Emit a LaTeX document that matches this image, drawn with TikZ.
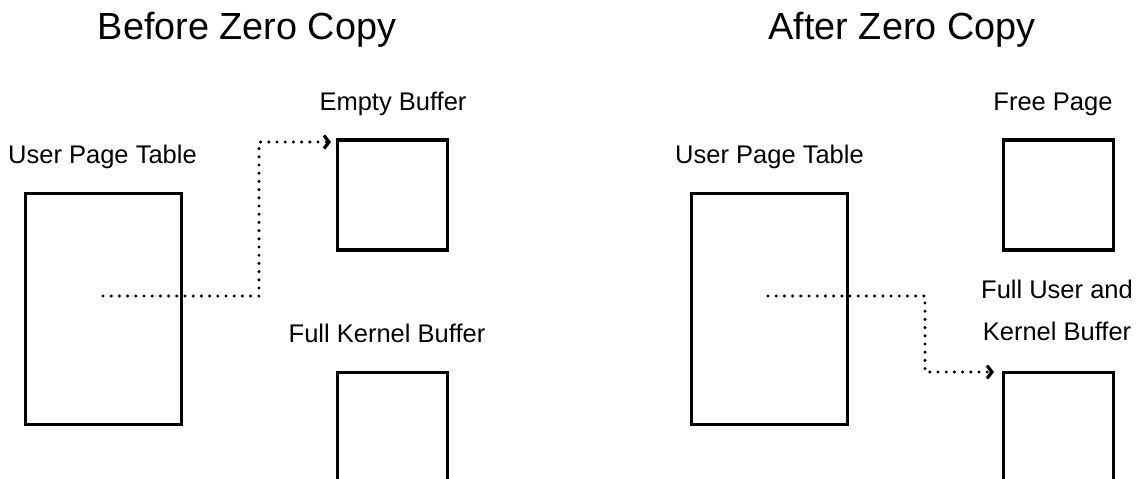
\documentclass[tikz,border=0pt]{standalone}
\usepackage{fontspec}
\setmainfont{Liberation Sans}
\usetikzlibrary{arrows.meta}

\begin{document}
\begin{tikzpicture}[x=1pt,y=-1pt,
  title/.style={font=\fontsize{37.8}{44}\selectfont,anchor=base,inner sep=0pt},
  lbl/.style={font=\fontsize{25.5}{42}\selectfont,anchor=base,inner sep=0pt,align=center},
  ptable/.style={draw,line width=3.2pt,minimum width=156pt,minimum height=231pt,inner sep=0pt},
  pagebox/.style={draw,line width=3.2pt,minimum width=110pt,minimum height=110pt,inner sep=0pt},
  link/.style={line width=3.4pt,line cap=round,dash pattern=on 0pt off 8.2pt,
    -{Straight Barb[length=5pt,width=13pt,line width=3.2pt]}}]
\useasboundingbox (0,0) rectangle (1140,479);
\clip (0,0) rectangle (1140,479);

% before
\node[title] (before) at (247,39) {Before Zero Copy};
\node[ptable] (tblA) at (103.5,309) {};
\node[lbl] (tblAlbl) at (102.5,163) {User Page Table};
\node[pagebox] (emptybuf) at (392.5,195) {};
\node[lbl] (emptylbl) at (393,110) {Empty Buffer};
\node[pagebox] (kernbuf) at (392.5,427.5) {};
\node[lbl] (kernlbl) at (387,342) {Full Kernel Buffer};
\coordinate (srcA) at (103,296);
\coordinate (dstA) at (331,142);
\draw[link] (srcA) -- ++(156,0) |- (dstA);

% after
\node[title] (after) at (902,39) {After Zero Copy};
\node[ptable] (tblB) at (769.5,309) {};
\node[lbl] (tblBlbl) at (769.5,163) {User Page Table};
\node[pagebox] (freepage) at (1058.5,195) {};
\node[lbl] (freelbl) at (1053,110) {Free Page};
\node[pagebox] (fullbuf) at (1058.5,427.5) {};
\node[lbl] (fulllbl) at (1057,340) {Full User and\\Kernel Buffer};
\coordinate (srcB) at (768,296);
\coordinate (dstB) at (994,372);
\draw[link] (srcB) -- ++(157,0) |- (dstB);
\end{tikzpicture}
\end{document}
